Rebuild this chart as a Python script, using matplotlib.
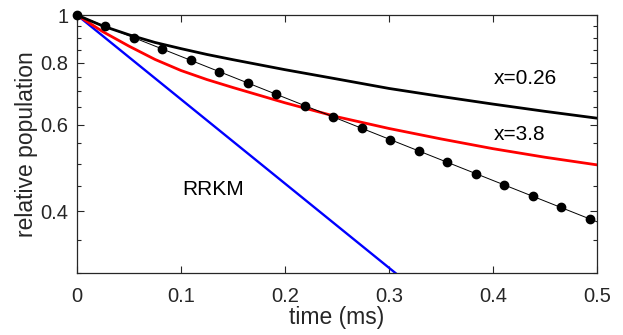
import numpy as np
import matplotlib
matplotlib.use("Agg")
import matplotlib.pyplot as plt
from matplotlib.ticker import FixedLocator, FuncFormatter

plt.rcParams['font.family'] = ['Liberation Sans', 'DejaVu Sans']

# curves (time in ms, relative population)
t_grid = [0, 0.025, 0.05, 0.075, 0.1, 0.125, 0.15, 0.2, 0.25, 0.3, 0.35, 0.4, 0.45, 0.5]
pop_x026 = [1, 0.950, 0.912, 0.880, 0.855, 0.832, 0.812, 0.775, 0.742, 0.710, 0.684, 0.660, 0.638, 0.618]
pop_x38 = [1, 0.925, 0.865, 0.813, 0.772, 0.740, 0.713, 0.664, 0.622, 0.589, 0.561, 0.536, 0.515, 0.497]

# RRKM: single exponential (straight on log axis)
t_rrkm = [0, 0.5]
pop_rrkm = [1, 0.140]

# measured points (dots) and the fitted line through them
t_dots = [0, 0.0274, 0.0548, 0.0822, 0.1096, 0.137, 0.1644, 0.1918, 0.2192, 0.2466,
          0.274, 0.3014, 0.3288, 0.3562, 0.3836, 0.411, 0.4384, 0.4658, 0.4932]
pop_dots = [1, 0.9485, 0.8997, 0.8534, 0.8095, 0.7679, 0.7284, 0.6909, 0.6553, 0.6216,
            0.5896, 0.5593, 0.5305, 0.5032, 0.4773, 0.4528, 0.4295, 0.4074, 0.3864]
t_fit = [0, 0.5]
pop_fit = [1, 0.381]

axcol = '#262626'

fig = plt.figure(figsize=(6.23, 3.35), dpi=100)
ax = fig.add_axes([0.1236, 0.185, 0.8347, 0.770])

ax.plot(t_rrkm, pop_rrkm, color='#0000ff', lw=1.7)
ax.plot(t_grid, pop_x38, color='#ff0000', lw=2.0)
ax.plot(t_grid, pop_x026, color='black', lw=2.0)
ax.plot(t_fit, pop_fit, color='black', lw=0.7)
ax.plot(t_dots, pop_dots, 'o', color='black', ms=6, clip_on=False, zorder=5)

ax.set_yscale('log')
ax.set_xlim(0, 0.5)
ax.set_ylim(0.3, 1.0)

ax.xaxis.set_major_locator(FixedLocator([0, 0.1, 0.2, 0.3, 0.4, 0.5]))
ax.xaxis.set_major_formatter(FuncFormatter(lambda v, p: '%g' % v))
ax.yaxis.set_major_locator(FixedLocator([0.4, 0.6, 0.8, 1.0]))
ax.yaxis.set_major_formatter(FuncFormatter(lambda v, p: '%g' % v))
ax.yaxis.set_minor_locator(FixedLocator(np.arange(0.3, 1.001, 0.05)))
ax.yaxis.set_minor_formatter(FuncFormatter(lambda v, p: ''))
ax.xaxis.set_minor_locator(FixedLocator([]))

ax.tick_params(which='both', direction='in', top=True, right=True, colors=axcol,
               labelsize=14.5)
ax.tick_params(axis='x', pad=10)
ax.tick_params(axis='y', pad=6)
ax.tick_params(which='major', length=5, width=0.8)
ax.tick_params(which='minor', length=3, width=0.8)
for s in ax.spines.values():
    s.set_color(axcol)
    s.set_linewidth(0.9)

ax.set_xlabel('time (ms)', fontsize=16.5, color=axcol, labelpad=0)
ax.set_ylabel('relative population', fontsize=16.5, color=axcol, labelpad=2)

ax.text(0.401, 0.743, 'x=0.26', fontsize=15, va='center', ha='left')
ax.text(0.401, 0.572, 'x=3.8', fontsize=15, va='center', ha='left')
ax.text(0.101, 0.444, 'RRKM', fontsize=15, va='center', ha='left')

fig.savefig('out.png', dpi=100)
